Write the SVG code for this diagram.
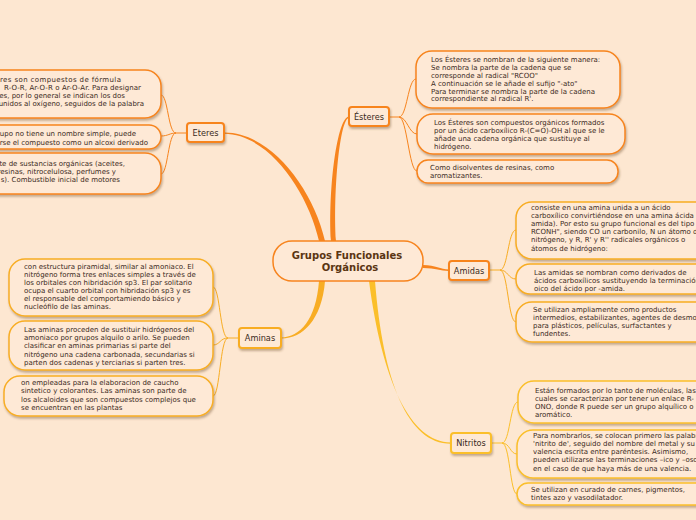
<svg xmlns="http://www.w3.org/2000/svg" width="696" height="520" viewBox="0 0 696 520">
<style>
.t{font-family:"DejaVu Sans",Verdana,sans-serif;font-size:7px;fill:#3b2a1c}
.e{text-anchor:end}
.lbl{font-family:"DejaVu Sans",Verdana,sans-serif;font-size:8.2px;fill:#3b2a1c;text-anchor:middle}
.ttl{font-family:"DejaVu Sans",Verdana,sans-serif;font-size:10px;font-weight:bold;fill:#5a3512;text-anchor:middle}
.box{fill:#fee9d6;stroke-width:1.5;filter:url(#sh)}
.nd{fill:#fee9d6;stroke-width:2;filter:url(#sh)}
.o{stroke:#f7841e}
.y{stroke:#f8ad24}
.g{stroke:#fbbf2a}
.ln{fill:none;stroke-width:1}
</style>
<defs>
<filter id="sh" x="-10%" y="-10%" width="130%" height="150%">
<feDropShadow dx="1" dy="2" stdDeviation="0.8" flood-color="#6b4a2a" flood-opacity="0.4"/>
</filter>
</defs>
<rect x="0" y="0" width="696" height="520" fill="#fde7d1"/>

<g id="connectors">
<path d="M224,132.6 C270,132 313,188 325,241 L319,241 C308,192 269,134 224,133.8 Z" fill="#f7841e"/>
<path d="M349,116.5 C337,117 328,190 331,241 L336,241 C333,190 340,118 349,118 Z" fill="#f7841e"/>
<path d="M319,281 C316,320 300,337 281,337.5 L281,338.5 C302,339 322,320 325,281 Z" fill="#f8ad24"/>
<path d="M423,265 C436,265 440,269.5 449,269.5 L449,271 C440,271 436,268 423,268 Z" fill="#f7841e"/>
<path d="M369,281 C382,380 410,442.5 451,442.5 L451,443.8 C408,444 383,382 375,281 Z" fill="#fbbf2a"/>

<path class="ln o" d="M187,133 L176,133 C168,133 168,95 161,95 M176,133 C170,133 168,136 161,136 M176,133 C168,133 168,174 161,174"/>
<path class="ln y" d="M239,338 L228,338 C220,338 220,287 213,287 M228,338 C220,338 220,345 213,345 M228,338 C220,338 220,396 213,396"/>
<path class="ln o" d="M389,117 L399,117 C407,117 408,79 416,79 M399,117 C407,117 409,134 417,134 M399,117 C407,117 409,171 417,171"/>
<path class="ln y" d="M489,270 L500,270 C508,270 508,230 516,230 M500,270 C508,270 508,279 516,279 M500,270 C508,270 508,322 516,322"/>
<path class="ln g" d="M491,443 L502,443 C510,443 510,402 518,402 M502,443 C510,443 510,454 517,454 M502,443 C510,443 510,494 517,494"/>
</g>

<g id="center">
<rect x="273" y="241" width="150" height="40" rx="19" fill="#fee9d6" stroke="#f7841e" stroke-width="1.5"/>
<text class="ttl" x="347" y="259">Grupos Funcionales</text>
<text class="ttl" x="350" y="271">Orgánicos</text>
</g>

<g id="eteres">
<rect class="nd o" x="187" y="123" width="37" height="19" rx="3"/>
<text class="lbl" x="205.5" y="136">Eteres</text>
</g>
<g id="esteres">
<rect class="nd o" x="349" y="107" width="40" height="19" rx="3"/>
<text class="lbl" x="369" y="120">Ésteres</text>
</g>
<g id="aminas">
<rect class="nd y" x="239" y="328" width="42" height="20" rx="3"/>
<text class="lbl" x="260" y="341">Aminas</text>
</g>
<g id="amidas">
<rect class="nd o" x="449" y="261" width="40" height="19" rx="3"/>
<text class="lbl" x="469" y="274">Amidas</text>
</g>
<g id="nitritos">
<rect class="nd g" x="451" y="433" width="40" height="20" rx="3"/>
<text class="lbl" x="471" y="446">Nitritos</text>
</g>

<g id="eteres-1">
<rect class="box o" x="-30" y="70" width="191" height="48" rx="16"/>
<text class="t" x="0" y="81.5" textLength="121" lengthAdjust="spacing">res  son  compuestos   de fórmula</text>
<text class="t" x="4" y="89.5" textLength="137" lengthAdjust="spacing">R-O-R, Ar-O-R o Ar-O-Ar. Para designar</text>
<text class="t e" x="125" y="97.5">es, por lo general se indican los dos</text>
<text class="t e" x="144" y="105.5">unidos al oxígeno, seguidos de la palabra</text>
</g>
<g id="eteres-2">
<rect class="box o" x="-30" y="125" width="191" height="24" rx="12"/>
<text class="t e" x="136" y="135.5">rupo no tiene un nombre simple, puede</text>
<text class="t e" x="148" y="144.5">rse el compuesto como un alcoxi derivado</text>
</g>
<g id="eteres-3">
<rect class="box o" x="-30" y="153" width="191" height="41" rx="16"/>
<text class="t e" x="125" y="165.5">te de sustancias orgánicas (aceites,</text>
<text class="t e" x="116" y="173.5">resinas, nitrocelulosa, perfumes y</text>
<text class="t e" x="120" y="181.5">s). Combustible inicial de motores</text>
</g>

<g id="aminas-1">
<rect class="box y" x="9" y="259" width="204" height="57" rx="16"/>
<text class="t" x="24" y="269">con estructura piramidal, similar al amoniaco.  El</text>
<text class="t" x="24" y="277">nitrógeno forma tres enlaces simples a través de</text>
<text class="t" x="24" y="285">los orbitales con hibridación sp3.  El par solitario</text>
<text class="t" x="24" y="293">ocupa el cuarto orbital con hibridación sp3 y es</text>
<text class="t" x="24" y="301">el responsable del comportamiendo básico y</text>
<text class="t" x="24" y="309">nucleófilo de las aminas.</text>
</g>
<g id="aminas-2">
<rect class="box y" x="9" y="321" width="204" height="49" rx="16"/>
<text class="t" x="24" y="331.5">Las aminas proceden de sustituir hidrógenos del</text>
<text class="t" x="24" y="340">amoniaco por grupos alquilo o arilo. Se pueden</text>
<text class="t" x="24" y="348">clasificar en aminas primarias si parte del</text>
<text class="t" x="24" y="356.5">nitrógeno una cadena carbonada, secundarias si</text>
<text class="t" x="24" y="365">parten dos cadenas y terciarias si parten tres.</text>
</g>
<g id="aminas-3">
<rect class="box y" x="4" y="376" width="209" height="40" rx="16"/>
<text class="t" x="21" y="384.5">on empleadas para la elaboracion de caucho</text>
<text class="t" x="21" y="393">sintetico y colorantes. Las aminas son parte de</text>
<text class="t" x="21" y="401.5">los alcaloides que son compuestos complejos que</text>
<text class="t" x="21" y="410">se encuentran en las plantas</text>
</g>

<g id="esteres-1">
<rect class="box o" x="416" y="51" width="204" height="57" rx="16"/>
<text class="t" x="431" y="61.5">Los Ésteres se nombran de la siguiente manera:</text>
<text class="t" x="431" y="69.5">Se nombra la parte de la cadena que se</text>
<text class="t" x="431" y="77.5">corresponde al radical "RCOO"</text>
<text class="t" x="431" y="85.5">A continuación se le añade el sufijo "-ato"</text>
<text class="t" x="431" y="93.5">Para terminar se nombra la parte de la cadena</text>
<text class="t" x="431" y="101">correspondiente al radical R'.</text>
</g>
<g id="esteres-2">
<rect class="box o" x="417" y="114" width="208" height="40" rx="16"/>
<text class="t" x="434" y="124.5">Los Ésteres son compuestos orgánicos formados</text>
<text class="t" x="434" y="132.5">por un ácido carboxílico R-(C=O)-OH al que se le</text>
<text class="t" x="434" y="140.5">añade una cadena orgánica que sustituye al</text>
<text class="t" x="434" y="148.5">hidrógeno.</text>
</g>
<g id="esteres-3">
<rect class="box o" x="417" y="160" width="201" height="23" rx="11"/>
<text class="t" x="430" y="169.5">Como disolventes de resinas, como</text>
<text class="t" x="430" y="178">aromatizantes.</text>
</g>

<g id="amidas-1">
<rect class="box y" x="516" y="202" width="210" height="57" rx="16"/>
<text class="t" x="531" y="210">consiste en una amina unida a un ácido</text>
<text class="t" x="531" y="218">carboxílico convirtiéndose en una amina ácida (</text>
<text class="t" x="531" y="226">amida). Por esto su grupo funcional es del tipo</text>
<text class="t" x="531" y="234">RCONH", siendo CO un carbonilo, N un átomo de</text>
<text class="t" x="531" y="242">nitrógeno, y R, R' y R'' radicales orgánicos o</text>
<text class="t" x="531" y="250.5">átomos de hidrógeno:</text>
</g>
<g id="amidas-2">
<rect class="box y" x="516" y="264" width="210" height="30" rx="14"/>
<text class="t" x="534" y="274.5">Las amidas se nombran como derivados de</text>
<text class="t" x="534" y="282.5">ácidos carboxílicos sustituyendo la terminación</text>
<text class="t" x="534" y="291">oico del ácido por -amida.</text>
</g>
<g id="amidas-3">
<rect class="box y" x="516" y="302" width="210" height="40" rx="16"/>
<text class="t" x="533" y="312">Se utilizan ampliamente como productos</text>
<text class="t" x="533" y="320">intermedios, estabilizantes, agentes de desmoldeo</text>
<text class="t" x="533" y="328">para plásticos, películas, surfactantes y</text>
<text class="t" x="533" y="336">fundentes.</text>
</g>

<g id="nitritos-1">
<rect class="box g" x="518" y="381" width="210" height="42" rx="16"/>
<text class="t" x="535" y="392.5">Están formados por lo tanto de moléculas, las</text>
<text class="t" x="535" y="401">cuales se caracterizan por tener un enlace R-</text>
<text class="t" x="535" y="409">ONO, donde R puede ser un grupo alquílico o</text>
<text class="t" x="535" y="417">aromático.</text>
</g>
<g id="nitritos-2">
<rect class="box g" x="517" y="430" width="210" height="48" rx="16"/>
<text class="t" x="533" y="438">Para nombrarlos, se colocan primero las palabras</text>
<text class="t" x="533" y="446">'nitrito de', seguido del nombre del metal y su</text>
<text class="t" x="533" y="454">valencia escrita entre paréntesis. Asimismo,</text>
<text class="t" x="533" y="462">pueden utilizarse las terminaciones –ico y –oso</text>
<text class="t" x="533" y="470.5">en el caso de que haya más de una valencia.</text>
</g>
<g id="nitritos-3">
<rect class="box g" x="517" y="483" width="210" height="22" rx="11"/>
<text class="t" x="531" y="491.5">Se utilizan en curado de carnes, pigmentos,</text>
<text class="t" x="531" y="499.5">tintes azo y vasodilatador.</text>
</g>
</svg>
